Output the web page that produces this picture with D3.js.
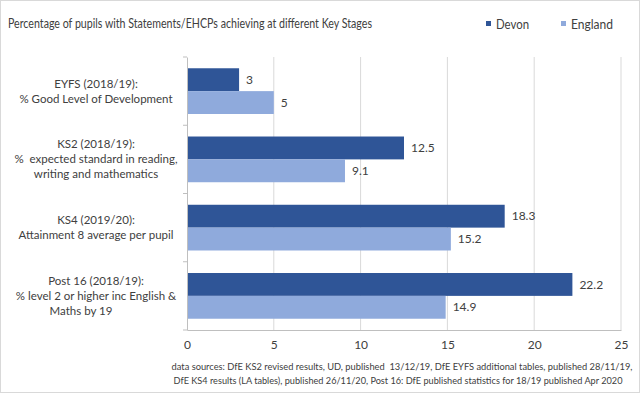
<!DOCTYPE html>
<html>
<head>
<meta charset="utf-8">
<script src="https://cdn.jsdelivr.net/npm/d3@7"></script>
<style>
  body { margin: 0; background: #fff; }
  svg { display: block; font-family: Lato, "Open Sans", sans-serif; }
</style>
</head>
<body>
<script>
// chart data
const categories = ['EYFS', 'KS2', 'KS4', 'Post16'];
const categoryLabels = [
  ['EYFS (2018/19):', '% Good Level of Development'],
  ['KS2 (2018/19):', '%  expected standard in reading,', 'writing and mathematics'],
  ['KS4 (2019/20):', 'Attainment 8 average per pupil'],
  ['Post 16 (2018/19):', '% level 2 or higher inc English &', 'Maths by 19']
];
const seriesNames = ['Devon', 'England'];
const devon = [3, 12.5, 18.3, 22.2];
const england = [5, 9.1, 15.2, 14.9];
const xTicks = [0, 5, 10, 15, 20, 25];
const title = 'Percentage of pupils with Statements/EHCPs achieving at different Key Stages';
const sourceLines = [
  'data sources: DfE KS2 revised results, UD, published  13/12/19, DfE EYFS additional tables, published 28/11/19,',
  'DfE KS4 results (LA tables), published 26/11/20, Post 16: DfE published statistics for 18/19 published Apr 2020'
];

const colors = ['#2f5597', '#8faadc'];
const width = 640, height = 393;
const margin = { top: 57, right: 19, bottom: 63, left: 187 };

const svg = d3.select('body').append('svg')
  .attr('width', width).attr('height', height);

// squeeze a text to a given width (the original font is narrower than ours)
function fitWidth(sel, w) {
  sel.each(function () {
    const tw = this.getComputedTextLength();
    if (tw > w) d3.select(this).attr('textLength', w).attr('lengthAdjust', 'spacingAndGlyphs');
  });
}
// shrink the font size until the text fits
function fitSize(sel, w) {
  sel.each(function () {
    const tw = this.getComputedTextLength();
    const fs = parseFloat(d3.select(this).attr('font-size'));
    if (tw > w) d3.select(this).attr('font-size', fs * w / tw);
  });
}

// outer frame
svg.append('rect')
  .attr('x', 0.5).attr('y', 0.5)
  .attr('width', width - 1).attr('height', height - 1)
  .attr('fill', '#fff').attr('stroke', '#d9d9d9');

const x = d3.scaleLinear().domain([0, 25]).range([margin.left, width - margin.right]);
const y = d3.scaleBand().domain(categories)
  .range([margin.top, height - margin.bottom])
  .paddingInner(0.33).paddingOuter(0.165);
const ySub = d3.scaleBand().domain(seriesNames).range([0, y.bandwidth()]);

// gridlines
svg.append('g')
  .selectAll('line')
  .data(xTicks.slice(1))
  .join('line')
  .attr('x1', d => x(d)).attr('x2', d => x(d))
  .attr('y1', margin.top).attr('y2', height - margin.bottom)
  .attr('stroke', '#d9d9d9');

// bars
const rows = categories.map((c, i) => ({ cat: c, values: [devon[i], england[i]] }));
const group = svg.append('g').selectAll('g')
  .data(rows)
  .join('g')
  .attr('transform', d => `translate(0,${y(d.cat)})`);

group.selectAll('rect')
  .data(d => d.values.map((v, j) => ({ name: seriesNames[j], v, j })))
  .join('rect')
  .attr('x', x(0))
  .attr('y', d => ySub(d.name))
  .attr('width', d => x(d.v) - x(0))
  .attr('height', ySub.bandwidth())
  .attr('fill', d => colors[d.j]);

group.selectAll('text')
  .data(d => d.values.map((v, j) => ({ name: seriesNames[j], v, j })))
  .join('text')
  .attr('x', d => x(d.v) + 7)
  .attr('y', d => ySub(d.name) + ySub.bandwidth() / 2)
  .attr('dy', '0.35em')
  .attr('font-size', 12)
  .attr('fill', '#404040')
  .text(d => d.v);

// x axis
const xAxis = svg.append('g')
  .attr('transform', `translate(0,${height - margin.bottom})`)
  .call(d3.axisBottom(x).tickValues(xTicks).tickSize(0).tickPadding(10));
xAxis.select('.domain').attr('stroke', '#bfbfbf');
xAxis.selectAll('text').attr('font-size', 12).attr('fill', '#404040')
  .attr('font-family', 'Lato, sans-serif');

// y axis
const yAxis = svg.append('g')
  .attr('transform', `translate(${margin.left},0)`)
  .call(d3.axisLeft(y).tickSize(0).tickFormat(''));
yAxis.select('.domain').attr('stroke', '#bfbfbf');
yAxis.selectAll('.tick').remove();
const bounds = categories.map(c => y(c) - y.step() * y.paddingInner() / 2).concat([height - margin.bottom]);
yAxis.selectAll('line.cut')
  .data(bounds)
  .join('line')
  .attr('class', 'cut')
  .attr('x1', -4).attr('x2', 0)
  .attr('y1', d => d).attr('y2', d => d)
  .attr('stroke', '#bfbfbf');

// category labels
svg.append('g').selectAll('text')
  .data(categories)
  .join('text')
  .attr('text-anchor', 'middle')
  .attr('font-size', 11.5)
  .attr('fill', '#404040')
  .attr('transform', (c, i) => {
    const n = categoryLabels[i].length;
    const cy = y(c) + y.bandwidth() / 2 - (n - 1) * 7.5;
    return `translate(96,${cy})`;
  })
  .each(function (c, i) {
    d3.select(this).selectAll('tspan')
      .data(categoryLabels[i])
      .join('tspan')
      .attr('x', (d, k) => (i === 3 && k === 2) ? -15 : 0)
      .attr('y', (d, k) => k * 15)
      .attr('dy', '0.35em')
      .style('white-space', 'pre')
      .text(d => d);
  });

// title
svg.append('text')
  .attr('x', 8).attr('y', 28)
  .attr('font-size', 13.5)
  .attr('fill', '#404040')
  .text(title)
  .call(fitWidth, 364);

// legend
const legendX = [486, 561];
const legendW = [33, 42];
const legend = svg.append('g').selectAll('g')
  .data(seriesNames)
  .join('g')
  .attr('transform', (d, i) => `translate(${legendX[i]},21)`);
legend.append('rect')
  .attr('width', 5).attr('height', 5)
  .attr('fill', (d, i) => colors[i]);
legend.append('text')
  .attr('x', 10).attr('y', 3).attr('dy', '0.35em')
  .attr('font-size', 13.5)
  .attr('fill', '#404040')
  .text(d => d)
  .each(function (d, i) { d3.select(this).call(fitWidth, legendW[i]); });

// sources
const srcW = [462, 450];
svg.append('g').selectAll('text')
  .data(sourceLines)
  .join('text')
  .attr('x', (d, i) => [402, 398][i])
  .attr('y', (d, i) => 370 + i * 14)
  .attr('text-anchor', 'middle')
  .attr('font-size', 10.5)
  .attr('fill', '#404040')
  .style('white-space', 'pre')
  .text(d => d)
  .each(function (d, i) { d3.select(this).call(fitSize, srcW[i]); });
</script>
</body>
</html>
